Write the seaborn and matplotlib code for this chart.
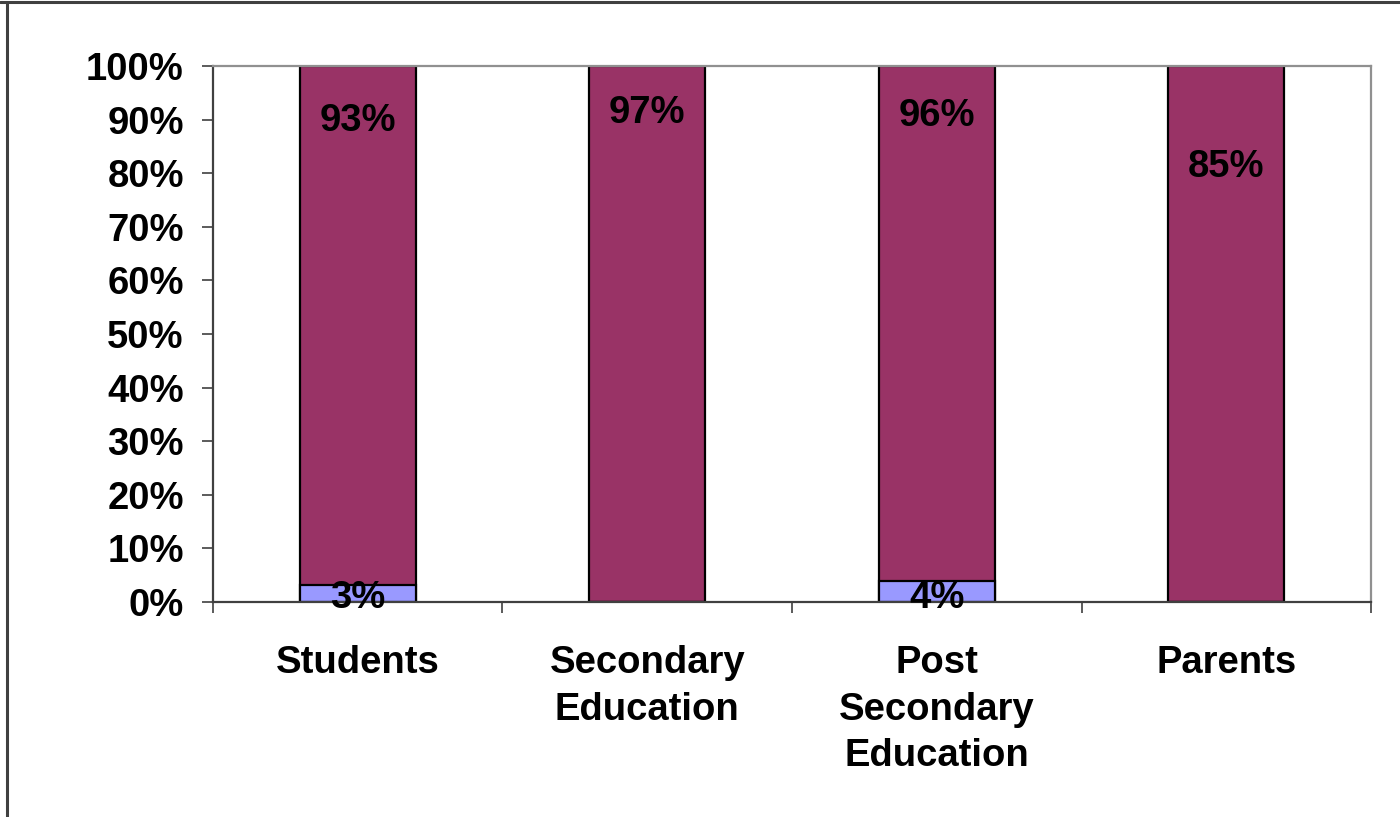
import matplotlib
matplotlib.use("Agg")
import matplotlib.pyplot as plt
from matplotlib.lines import Line2D
import numpy as np
import pandas as pd
import seaborn as sns

# Survey groups and response shares (percent)
categories = ["Students", "Secondary\nEducation", "Post\nSecondary\nEducation", "Parents"]
blue_values = [3, 0, 4, 0]
maroon_values = [93, 97, 96, 85]
y_ticks = [0, 10, 20, 30, 40, 50, 60, 70, 80, 90, 100]

sns.set_theme(style="white")
plt.rcParams["font.family"] = ["Liberation Sans", "DejaVu Sans"]
plt.rcParams["font.weight"] = "bold"
plt.rcParams["text.color"] = "black"
plt.rcParams["xtick.color"] = "black"
plt.rcParams["ytick.color"] = "black"

# 100% stacked: normalise each column to its total
blue = np.array(blue_values, dtype=float)
maroon = np.array(maroon_values, dtype=float)
total = blue + maroon
blue_pct = blue / total * 100
stack_pct = (blue + maroon) / total * 100

df = pd.DataFrame({"group": categories, "blue": blue_pct, "stack": stack_pct})

fig = plt.figure(figsize=(14, 8.17), dpi=100)
ax = fig.add_axes([0.1521, 0.2632, 0.8272, 0.6560])

sns.barplot(data=df, x="group", y="stack", color="#993366", saturation=1,
            width=0.4, edgecolor="black", linewidth=1.6, ax=ax)
sns.barplot(data=df, x="group", y="blue", color="#9999FF", saturation=1,
            width=0.4, edgecolor="black", linewidth=1.6, ax=ax)

# Value labels
fs = 27.5
maroon_label_y = [89.8, 91.2, 90.7, 81.2]
for i, (b, m) in enumerate(zip(blue_values, maroon_values)):
    ax.text(i, maroon_label_y[i], f"{m}%", ha="center", va="center",
            fontsize=fs, fontweight="bold", color="black")
    if b:
        ax.text(i, 0.8, f"{b}%", ha="center", va="center",
                fontsize=fs, fontweight="bold", color="black")

ax.set_xlim(-0.5, len(categories) - 0.5)
ax.set_ylim(0, 100)
ax.set_yticks(y_ticks)
ax.set_yticklabels([f"{t}%" for t in y_ticks], fontsize=fs, fontweight="bold",
                   color="black")
ax.set_xticks(range(len(categories)))
ax.set_xticklabels(categories, fontsize=fs, fontweight="bold", linespacing=1.38,
                   color="black")
ax.set_xticks(np.arange(-0.5, len(categories), 1), minor=True)
ax.set_xlabel("")
ax.set_ylabel("")

ax.tick_params(axis="y", which="major", direction="out", length=8, width=1.2,
               color="#404040", left=True, pad=13)
ax.tick_params(axis="x", which="major", length=0, pad=31)
ax.tick_params(axis="x", which="minor", direction="out", length=8, width=1.2,
               color="#404040", bottom=True)

for side in ["left", "bottom"]:
    ax.spines[side].set_color("#404040")
    ax.spines[side].set_linewidth(1.6)
for side in ["top", "right"]:
    ax.spines[side].set_color("#909090")
    ax.spines[side].set_linewidth(1.6)
    ax.spines[side].set_visible(True)

# Outer frame edges
fig.add_artist(Line2D([0, 1], [1 - 2 / 817, 1 - 2 / 817], transform=fig.transFigure,
                      color="#404040", linewidth=2.2))
fig.add_artist(Line2D([7 / 1400, 7 / 1400], [0, 1 - 2 / 817], transform=fig.transFigure,
                      color="#404040", linewidth=2.2))

fig.savefig("out.png", dpi=100, facecolor="white")
